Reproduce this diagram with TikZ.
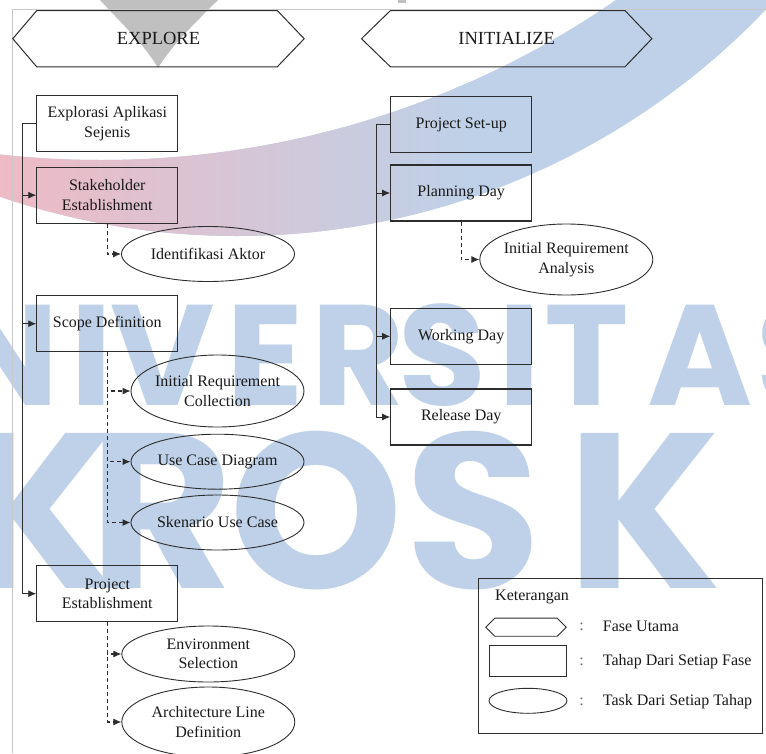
\documentclass[tikz,border=0pt]{standalone}
\usepackage{fontspec}
\setmainfont{Liberation Serif}
\newfontfamily\wmfont{Poppins}
\usetikzlibrary{arrows.meta,shapes.geometric}

\definecolor{wmblue}{RGB}{190,209,232}
\definecolor{wmpink}{RGB}{238,186,196}
\definecolor{wmmauve}{RGB}{216,202,220}
\definecolor{wmgrey}{RGB}{192,192,192}
\definecolor{framegrey}{RGB}{200,200,200}
\definecolor{ink}{RGB}{45,45,45}
\definecolor{txt}{RGB}{25,25,25}

\begin{document}
\begin{tikzpicture}[x=1pt,y=-1pt,
  line/.style={draw=ink, line width=0.9pt},
  arr/.style={-{Latex[length=8pt,width=7pt]}},
  dashline/.style={line width=1.1pt, dash pattern=on 4pt off 3pt},
  body/.style={text=txt, font=\fontsize{16}{19.5}\selectfont, align=center, inner sep=0pt},
  stage/.style={body, draw=ink, line width=1.1pt, minimum width=141pt, minimum height=56pt},
  task/.style={draw=ink, line width=0.9pt, ellipse, inner sep=0pt, minimum width=173pt, minimum height=55pt},
  phase/.style={text=txt, font=\fontsize{18.5}{20}\selectfont, minimum width=#1, minimum height=56pt, inner sep=0pt},
  hexline/.style={draw=ink, line width=1pt},
  wmA/.style={text=wmblue, font=\wmfont\bfseries\fontsize{143}{143}\selectfont, anchor=base, inner sep=0pt},
  wmB/.style={text=wmblue, font=\wmfont\bfseries\fontsize{221}{221}\selectfont, anchor=base, inner sep=0pt},
  legtext/.style={text=txt, font=\fontsize{16}{19}\selectfont, anchor=west, inner sep=0pt}
]
\useasboundingbox (0,0) rectangle (766,753);

% ---------- background watermark ----------
\begin{scope}
  \clip (0,0) rectangle (766,753);
  % curved band, pink on the left fading into blue
  \begin{scope}
    \clip (237,-495) circle[radius=731];
    \begin{scope}[even odd rule]
      \clip (-2000,-2000) rectangle (2000,2000) (101,-748) circle[radius=908];
      \fill[wmblue] (0,0) rectangle (766,300);
      \shade[left color=wmpink, middle color=wmmauve, right color=wmblue] (0,0) rectangle (470,300);
    \end{scope}
  \end{scope}
  % grey tip at the top
  \fill[wmgrey] (100,0) .. controls (120,22) and (145,45) .. (158,68)
                .. controls (172,45) and (196,22) .. (218,0) -- cycle;
  \fill[wmgrey] (398,0) rectangle (406,3);
  % large letters
  \node[wmA] (wa1) at (5,405) {N};
  \node[wmA] (wa2) at (92,405) {I};
  \node[wmA] (wa3) at (163,405) {V};
  \node[wmA] (wa4) at (265,405) {E};
  \node[wmA] (wa5) at (358,405) {R};
  \node[wmA] (wa6) at (442,405) {S};
  \node[wmA] (wa7) at (520,405) {I};
  \node[wmA] (wa8) at (587,405) {T};
  \node[wmA] (wa9) at (700,405) {A};
  \node[wmA] (wa10) at (800,405) {S};
  \node[wmB] (wb1) at (40,588) {K};
  \node[wmB] (wb2) at (162,588) {R};
  \node[wmB] (wb3) at (316,588) {O};
  \node[wmB] (wb4) at (473,588) {S};
  \node[wmB] (wb5) at (645,588) {K};
\end{scope}
% page frame
\draw[framegrey, line width=0.8pt] (12,753) -- (12,9.5) -- (766,9.5);

% ---------- phases ----------
\node[phase=291pt] (explore) at (158.5,38.7) {EXPLORE};
\draw[hexline] (explore.west) -- ([xshift=24pt]explore.north west) -- ([xshift=-27pt]explore.north east)
  -- (explore.east) -- ([xshift=-27pt]explore.south east) -- ([xshift=24pt]explore.south west) -- cycle;
\node[phase=290pt] (init) at (506.7,38.7) {INITIALIZE};
\draw[hexline] (init.west) -- ([xshift=29pt]init.north west) -- ([xshift=-27pt]init.north east)
  -- (init.east) -- ([xshift=-27pt]init.south east) -- ([xshift=29pt]init.south west) -- cycle;

% ---------- EXPLORE stages ----------
\node[stage] (expl)  at (107.3,123.8) {Explorasi Aplikasi\\Sejenis};
\node[stage] (stake) at (107.3,195.2) {Stakeholder\\Establishment};
\node[stage] (scope) at (107.3,323.7) {Scope Definition};
\node[stage] (pe)    at (107.3,593.7) {Project\\Establishment};

% EXPLORE tasks
\node[task] (ident) at (208,254) {};
\node[body] (ident-t) at (ident) {Identifikasi Aktor};
\node[task, minimum height=72pt] (irc) at (217.5,391) {};
\node[body] (irc-t) at (irc) {Initial Requirement\\Collection};
\node[task] (ucd) at (217.5,461.7) {};
\node[body] (ucd-t) at (ucd) {Use Case Diagram};
\node[task] (suc) at (217.5,522.5) {};
\node[body] (suc-t) at (suc) {Skenario Use Case};
\node[task, minimum height=56pt] (env) at (208.3,654) {};
\node[body] (env-t) at (env) {Environment\\Selection};
\node[task, minimum height=70pt] (arch) at (208.3,722) {};
\node[body] (arch-t) at (arch) {Architecture Line\\Definition};

% ---------- INITIALIZE stages ----------
\node[stage] (setup)   at (461.2,124.7) {Project Set-up};
\node[stage] (plan)    at (461.2,193)   {Planning Day};
\node[stage] (work)    at (461.2,336.3) {Working Day};
\node[stage] (release) at (461.2,417)   {Release Day};
\node[task, minimum height=71pt] (ira) at (566.3,259.5) {};
\node[body] (ira-t) at (ira) {Initial Requirement\\Analysis};

% ---------- connectors ----------
\coordinate (trunkL) at (22.7,0);
\coordinate (trunkR) at (376,0);
\draw[line] (expl.west) -- (expl.west -| trunkL) -- (pe.west -| trunkL);
\draw[line,arr] (stake.west -| trunkL) -- (stake.west);
\draw[line,arr] (scope.west -| trunkL) -- (scope.west);
\draw[line,arr] (pe.west -| trunkL) -- (pe.west);

\draw[line] (setup.west) -- (setup.west -| trunkR) -- (release.west -| trunkR);
\draw[line,arr] (plan.west -| trunkR) -- (plan.west);
\draw[line,arr] (work.west -| trunkR) -- (work.west);
\draw[line,arr] (release.west -| trunkR) -- (release.west);

\draw[line,dashline,arr] (stake.south) |- (ident.west);
\draw[line,dashline,arr] (scope.south) |- (irc.west);
\draw[line,dashline,arr] (scope.south) |- (ucd.west);
\draw[line,dashline,arr] (scope.south) |- (suc.west);
\draw[line,dashline,arr] (pe.south) |- (env.west);
\draw[line,dashline,arr] (pe.south) |- (arch.west);
\draw[line,dashline,arr] (plan.south) |- (ira.west);

% ---------- legend ----------
\node[draw=ink, line width=1pt, minimum width=284pt, minimum height=155pt, anchor=north west, inner sep=0pt] (legend) at (478.3,578.3) {};
\node[legtext] (lg-title) at (495,596.7) {Keterangan};
\node[minimum width=80pt, minimum height=17.7pt, inner sep=0pt] (lghex) at (526,627.2) {};
\draw[hexline, line width=0.9pt] (lghex.west) -- ([xshift=9pt]lghex.north west) -- ([xshift=-9pt]lghex.north east)
  -- (lghex.east) -- ([xshift=-9pt]lghex.south east) -- ([xshift=9pt]lghex.south west) -- cycle;
\node[draw=ink, line width=1.1pt, minimum width=77.7pt, minimum height=31.7pt, inner sep=0pt] (lgrect) at (527.9,660.9) {};
\node[draw=ink, line width=0.9pt, ellipse, minimum width=78pt, minimum height=25pt, inner sep=0pt] (lgell) at (528,700.8) {};
\node[legtext, text=black!60, anchor=center] (lgc1) at (581.7,626.7) {:};
\node[legtext, text=black!60, anchor=center] (lgc2) at (581.7,661.5) {:};
\node[legtext, text=black!60, anchor=center] (lgc3) at (581.7,701.5) {:};
\node[legtext] (lg1) at (602.7,626.7) {Fase Utama};
\node[legtext] (lg2) at (602.7,661.5) {Tahap Dari Setiap Fase};
\node[legtext] (lg3) at (602.7,701.5) {Task Dari Setiap Tahap};
\end{tikzpicture}
\end{document}
